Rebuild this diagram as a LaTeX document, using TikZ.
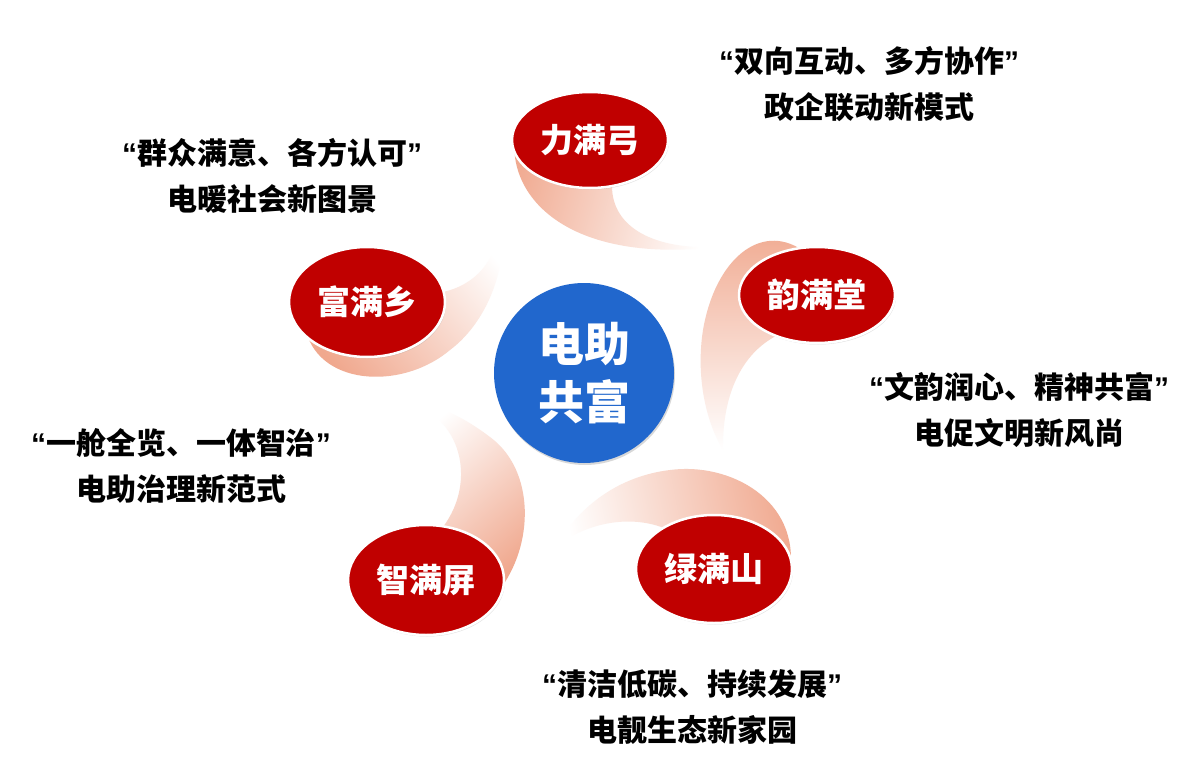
\documentclass[tikz,border=0pt]{standalone}
\usepackage{fontspec}
\usepackage{tikz}
\usetikzlibrary{shapes.geometric,shadows}
\newfontfamily\cjk{Noto Sans CJK SC}
\newfontfamily\latinq{Liberation Sans}
\definecolor{fmred}{RGB}{192,0,0}
\definecolor{fmblue}{RGB}{33,103,205}
\definecolor{fmpeach}{RGB}{240,168,142}
\newcommand{\openq}{{\latinq\bfseries “}}
\newcommand{\closeq}{{\latinq\bfseries ”}}
\tikzset{
    petal/.style={
        ellipse,draw=white,line width=2.5pt,fill=fmred,
        minimum width=156pt,minimum height=#1,inner sep=0pt,
        text=white,font=\cjk\bfseries\fontsize{33}{38}\selectfont,
        drop shadow={opacity=0.25,shadow xshift=1pt,shadow yshift=-1.5pt}
    },
    petal/.default=100pt,
    hub/.style={
        circle,fill=fmblue,minimum size=180pt,inner sep=0pt,
        align=center,text=white,
        font=\cjk\bfseries\fontsize{46}{58}\selectfont,
        drop shadow={opacity=0.3,shadow xshift=1pt,shadow yshift=-2pt}
    },
    tail/.style={
        draw=none,top color=white,bottom color=fmpeach,shading angle=#1
    },
    caption/.style={
        align=center,text=black,inner sep=0pt,
        font=\cjk\bfseries\fontsize{30}{46}\selectfont
    }
}
\begin{document}
\begin{tikzpicture}[x=1pt,y=-1pt]

\fill[white](0,0) rectangle (1200,776);
\useasboundingbox (0,0) rectangle (1200,776);

% swirling tails behind the petals
\shade[tail=-105](517,124) .. controls (500,190) and (560,265) .. (718,247)
  .. controls (655,250) and (612,228) .. (612,186) -- (590,140) -- cycle;
\shade[tail=-180](802,250) .. controls (760,222) and (715,260) .. (703,330)
  .. controls (696,375) and (705,420) .. (723,450)
  .. controls (722,390) and (745,350) .. (780,334) -- (817,295) -- cycle;
\shade[tail=101](790,572) .. controls (800,500) and (730,462) .. (670,470)
  .. controls (620,476) and (580,505) .. (557,545)
  .. controls (590,522) and (630,515) .. (664,528) -- (714,569) -- cycle;
\shade[tail=41](498,592) .. controls (535,545) and (535,470) .. (490,437)
  .. controls (465,418) and (435,402) .. (407,403)
  .. controls (460,415) and (478,480) .. (443,527) -- (426,580) -- cycle;
\shade[tail=-49](305,326) .. controls (315,385) and (400,392) .. (450,350)
  .. controls (490,320) and (510,260) .. (500,215)
  .. controls (500,260) and (475,285) .. (443,292) -- (367,302) -- cycle;

\node[petal=96pt](li) at (590,140) {力满弓};
\node[petal=96pt](yun) at (817,295) {韵满堂};
\node[petal=108pt](lv) at (714,569) {绿满山};
\node[petal=110pt](zhi) at (426,580) {智满屏};
\node[petal=110pt](fu) at (367,302) {富满乡};

\node[hub](hub) at (584,373) {电助\\共富};

\node[caption](capli) at (869,84)
{\openq 双向互动、多方协作\closeq\\政企联动新模式};
\node[caption](capfu) at (272,176)
{\openq 群众满意、各方认可\closeq\\电暖社会新图景};
\node[caption](capyun) at (1019,410)
{\openq 文韵润心、精神共富\closeq\\电促文明新风尚};
\node[caption](capzhi) at (181,466)
{\openq 一舱全览、一体智治\closeq\\电助治理新范式};
\node[caption](caplv) at (692,707)
{\openq 清洁低碳、持续发展\closeq\\电靓生态新家园};

\end{tikzpicture}
\end{document}
